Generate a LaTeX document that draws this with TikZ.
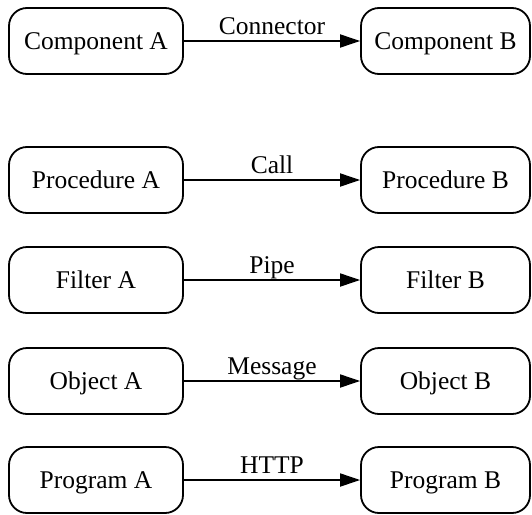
\documentclass[tikz,border=0pt]{standalone}
\usepackage{fontspec}
\setmainfont{Liberation Serif}
\usetikzlibrary{arrows.meta}
\begin{document}
\begin{tikzpicture}[x=1pt,y=-1pt,
  box/.style={draw, line width=1.8pt, rounded corners=18pt, minimum height=66pt,
    font=\fontsize{25.5}{30}\selectfont, text height=17pt, text depth=0pt, inner sep=0pt},
  lbox/.style={box, minimum width=174pt},
  rbox/.style={box, minimum width=169pt},
  conn/.style={line width=1.8pt, -{Triangle[length=20pt,width=13pt]}},
  lab/.style={font=\fontsize{25.5}{30}\selectfont, anchor=base, yshift=7pt, inner sep=0pt}
]
\useasboundingbox (0,0) rectangle (532,514);
\node[lbox] (ca) at (96,41) {Component A};
\node[rbox] (cb) at (445.5,41) {Component B};
\node[lbox] (pa) at (96,180) {Procedure A};
\node[rbox] (pb) at (445.5,180) {Procedure B};
\node[lbox] (fa) at (96,280) {Filter A};
\node[rbox] (fb) at (445.5,280) {Filter B};
\node[lbox] (oa) at (96,381) {Object A};
\node[rbox] (ob) at (445.5,381) {Object B};
\node[lbox] (ga) at (96,480) {Program A};
\node[rbox] (gb) at (445.5,480) {Program B};
\draw[conn] (ca) -- node[lab] {Connector} (cb);
\draw[conn] (pa) -- node[lab] {Call} (pb);
\draw[conn] (fa) -- node[lab] {Pipe} (fb);
\draw[conn] (oa) -- node[lab] {Message} (ob);
\draw[conn] (ga) -- node[lab] {HTTP} (gb);
\end{tikzpicture}
\end{document}
